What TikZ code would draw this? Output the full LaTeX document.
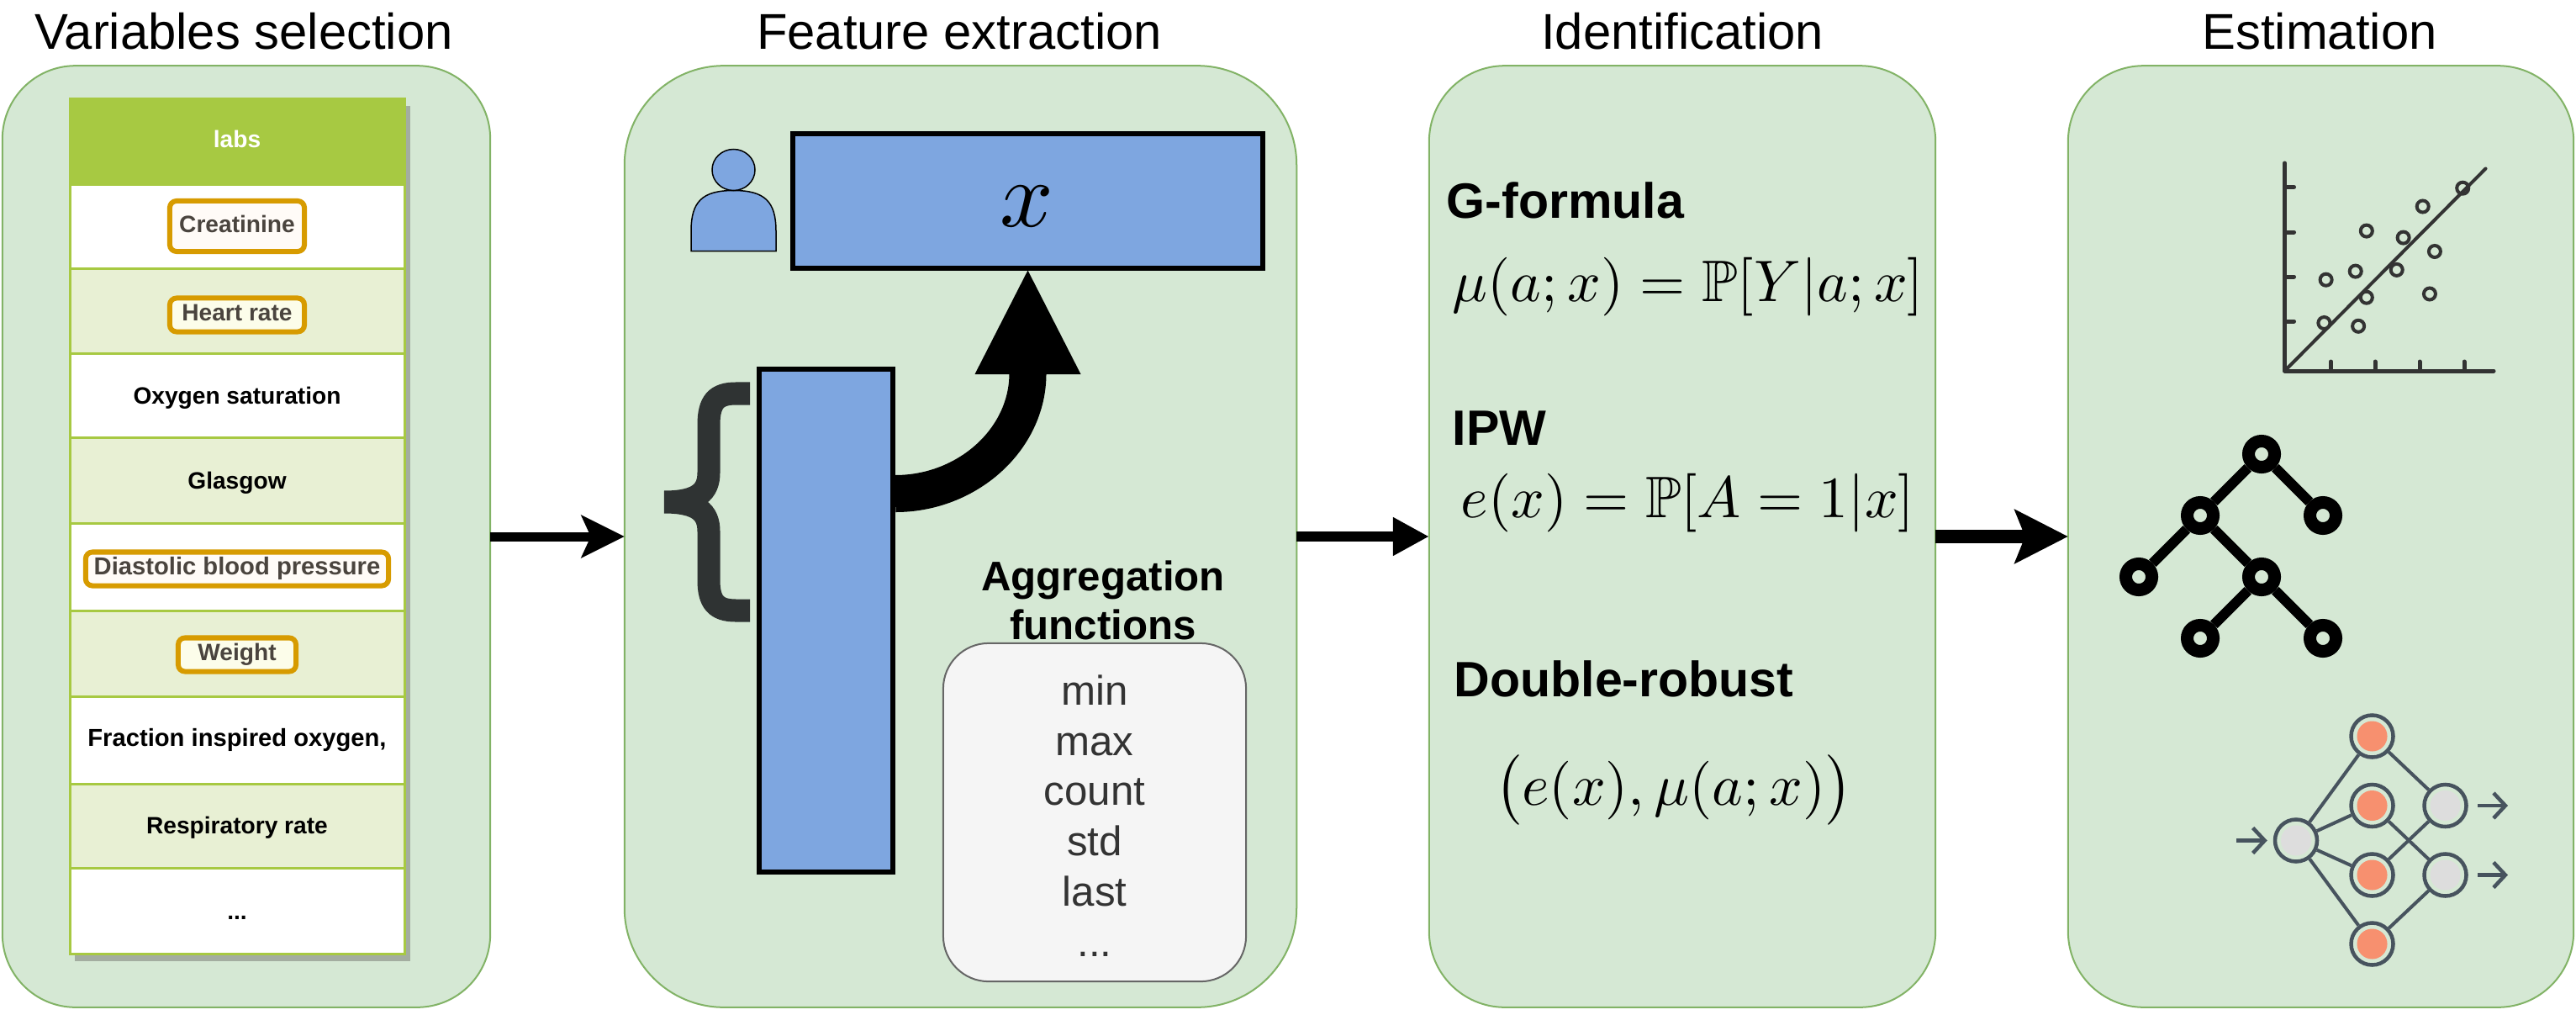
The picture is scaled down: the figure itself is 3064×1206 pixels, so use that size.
\documentclass[tikz,border=0pt]{standalone}
\usepackage{amsmath}
\usepackage{amssymb}
\usepackage[no-math]{fontspec}
\setmainfont{Liberation Sans}
\usetikzlibrary{arrows.meta, positioning}
\definecolor{panelgreen}{RGB}{213,232,212}
\definecolor{panelline}{RGB}{130,179,102}
\definecolor{tableline}{RGB}{167,201,66}
\definecolor{rowgreen}{RGB}{232,240,212}
\definecolor{shadowgray}{RGB}{163,173,160}
\definecolor{tagline}{RGB}{215,155,0}
\definecolor{tagtext}{RGB}{74,68,62}
\definecolor{blockblue}{RGB}{126,166,224}
\definecolor{bracegray}{RGB}{47,51,51}
\definecolor{iconslate}{RGB}{71,83,94}
\definecolor{iconorange}{RGB}{247,144,111}
\definecolor{icongray}{RGB}{221,221,221}
\tikzset{
  panelbox/.style={draw=panelline, fill=panelgreen, line width=0.02cm, outer sep=0pt},
  titlelabel/.style={anchor=base, inner sep=0pt, font=\fontsize{17}{20}\selectfont},
  headlabel/.style={anchor=base west, inner sep=0pt, font=\fontsize{16.8}{20}\selectfont\bfseries},
  rowlabel/.style={anchor=base, inner sep=0pt, font=\fontsize{8}{10}\selectfont\bfseries},
  tagbox/.style={draw=tagline, line width=0.06cm, rounded corners=0.08cm, text=tagtext,
    font=\fontsize{8}{10}\selectfont\bfseries, inner sep=0pt, text height=0.2cm, text depth=0.06cm},
  blockbox/.style={draw=black, fill=blockblue, line width=0.06cm, inner sep=0pt},
  mathlabel/.style={anchor=base, inner sep=0pt, scale=1.98},
  treenode/.style={circle, draw=black, fill=panelgreen, line width=0.15cm, minimum size=0.31cm, inner sep=0pt},
  treeedge/.style={draw=black, line width=0.12cm},
  netnode/.style={circle, draw=iconslate, fill=panelgreen, line width=0.045cm, minimum size=0.5cm, inner sep=0pt},
  hiddennode/.style={netnode, path picture={\fill[iconorange] (path picture bounding box.center) circle (0.18cm);}},
  outernode/.style={netnode, path picture={\fill[icongray] (path picture bounding box.center) circle (0.18cm);}},
  netedge/.style={draw=iconslate, line width=0.04cm},
  netarrow/.style={draw=iconslate, line width=0.045cm, -{Straight Barb[length=0.14cm,width=0.3cm]}},
}

\begin{document}
\begin{tikzpicture}[x=0.01cm, y=-0.01cm]
  \useasboundingbox (0,0) rectangle (3064,1206);

  % panels
  \node[panelbox, minimum width=5.8cm, minimum height=11.19cm, rounded corners=0.87cm] (varpanel) at (293,638) {};
  \node[panelbox, minimum width=7.99cm, minimum height=11.19cm, rounded corners=1.18cm] (featpanel) at (1142.5,638) {};
  \node[panelbox, minimum width=6.02cm, minimum height=11.19cm, rounded corners=0.9cm] (idpanel) at (2001,638) {};
  \node[panelbox, minimum width=6.01cm, minimum height=11.19cm, rounded corners=0.9cm] (estpanel) at (2760.5,638) {};

  \node[titlelabel] (vartitle) at (290,58) {Variables selection};
  \node[titlelabel] (feattitle) at (1141,58) {Feature extraction};
  \node[titlelabel] (idtitle) at (2001,58) {Identification};
  \node[titlelabel] (esttitle) at (2759,58) {Estimation};

  \draw[line width=0.11cm, -{Stealth[length=0.51cm,width=0.5cm,inset=0.11cm]}] (varpanel.east) -- (featpanel.west);
  \draw[line width=0.12cm, -{Triangle[length=0.43cm,width=0.43cm]}] (featpanel.east) -- (idpanel.west);
  \draw[line width=0.16cm, -{Stealth[length=0.63cm,width=0.63cm,inset=0.12cm]}] (idpanel.east) -- (estpanel.west);

  % table
  \fill[shadowgray] (89,126) rectangle (488,1143);
  \foreach \ytop/\ybot/\rowcol in {117/219/tableline, 219/319/white, 319/420/rowgreen, 420/520/white,
      520/622/rowgreen, 622/726/white, 726/828/rowgreen, 828/932/white, 932/1032/rowgreen, 1032/1134/white} {
    \draw[draw=tableline, fill=\rowcol, line width=0.03cm] (83,\ytop) rectangle (481,\ybot);
  }
  \node[rowlabel, text=white] (labs) at (282,175.5) {labs};
  \node[tagbox, fill=white!85!orange!20, minimum width=1.6cm, minimum height=0.6cm] (creatinine) at (282,269) {Creatinine};
  \node[tagbox, fill=rowgreen!70!yellow!20!white, minimum width=1.6cm, minimum height=0.4cm] (heartrate) at (282,374.5) {Heart rate};
  \node[rowlabel] (oxygen) at (282,480) {Oxygen saturation};
  \node[rowlabel] (glasgow) at (282,581.5) {Glasgow};
  \node[tagbox, fill=white!85!orange!20, minimum width=3.6cm, minimum height=0.4cm, font=\fontsize{8.3}{10}\selectfont\bfseries] (diastolic) at (282,676.5) {Diastolic blood pressure};
  \node[tagbox, fill=rowgreen!70!yellow!20!white, minimum width=1.4cm, minimum height=0.4cm] (weight) at (282,778.5) {Weight};
  \node[rowlabel, font=\fontsize{8.3}{10}\selectfont\bfseries] (fraction) at (282,887) {Fraction inspired oxygen,};
  \node[rowlabel] (respiratory) at (282,991.5) {Respiratory rate};
  \node[rowlabel] (rowdots) at (282,1093) {...};

  % feature extraction
  \node[blockbox, minimum width=5.59cm, minimum height=1.59cm] (xbox) at (1222.5,239) {};
  \node[anchor=base, inner sep=0pt, scale=3.17] (xlabel) at (1221,269) {$x$};
  \node[blockbox, minimum width=1.59cm, minimum height=5.98cm] (tallbox) at (982.5,738) {};
  \coordinate (curvestart) at (tallbox.east |- 0,587);
  \coordinate (curveend) at (xbox.south |- 0,444);
  \coordinate (curvectrl) at (xbox.south |- 0,523);
  \draw[line width=0.44cm] (curvestart) .. controls (1150,587) and (curvectrl) .. (curveend);
  \path (curveend) ++(-63,1) coordinate (headleft) (curveend) ++(63,1) coordinate (headright);
  \fill (headleft) -- (xbox.south) -- (headright) -- cycle;

  \draw[fill=blockblue, draw=black, line width=0.015cm]
        (822,298.5) -- (822,275) .. controls (822,240) and (835,226.5) .. (872.5,226.5)
        .. controls (910,226.5) and (923,240) .. (923,275) -- (923,298.5) -- cycle;
  \draw[fill=blockblue, draw=black, line width=0.015cm] (872.5,202) ellipse [x radius=25.5, y radius=24.5];

  \draw[draw=bracegray, line width=0.27cm]
        (892,468) -- (875,468) .. controls (852,468) and (843,478) .. (843,505) -- (843,562)
        .. controls (843,585) and (830,597) .. (790,597)
        .. controls (830,597) and (843,609) .. (843,632) -- (843,690)
        .. controls (843,716) and (852,726) .. (875,726) -- (892,726);

  \node[anchor=center, inner sep=0pt, align=center, font=\fontsize{14}{16.6}\selectfont\bfseries] (aggtitle) at (1312,714) {Aggregation\\functions};
  \node[draw=black!60, fill=black!4, line width=0.02cm, rounded corners=0.54cm, minimum width=3.6cm, minimum height=4.02cm] (aggbox) at (1302,966) {};
  \node[align=center, inner sep=0pt, text=black!80, font=\fontsize{14}{17}\selectfont] (agglist) at (1302,970) {min\\max\\count\\std\\last\\...};

  % identification
  \node[headlabel] (gformula) at (1720,259) {G-formula};
  \node[mathlabel] (gmath) at (2008,358) {$\mu(a;x) = \mathbb{P}[Y|a;x]$};
  \node[headlabel] (ipw) at (1727,529) {IPW};
  \node[mathlabel] (ipwmath) at (2007.5,615) {$e(x) = \mathbb{P}[A=1|x]$};
  \node[headlabel] (robust) at (1729,828) {Double-robust};
  \node[mathlabel] (robustmath) at (1991,957) {$\bigl(e(x),\mu(a;x)\bigr)$};

  % scatter icon
  \draw[draw=black!80, line width=0.05cm, line cap=round, line join=round] (2717.5,194) -- (2717.5,441) -- (2966,441);
  \foreach \yt in {222.5,276,329,382} {
    \draw[draw=black!80, line width=0.05cm, line cap=round] (2717.5,\yt) -- (2728.5,\yt);
  }
  \foreach \xt in {2772.5,2825,2878,2931} {
    \draw[draw=black!80, line width=0.05cm, line cap=round] (\xt,441) -- (\xt,430);
  }
  \draw[draw=black!80, line width=0.04cm, line cap=round] (2717.5,441) -- (2956.5,200.5);
  \foreach \px/\py in {2764.4/384, 2805.1/387.8, 2814.8/353.7, 2766.6/332.7, 2801.7/322.6, 2850.7/320.9,
      2814.8/274.6, 2858.6/282.6, 2895.9/299, 2889.9/349.5, 2881.7/245.5, 2929.2/223.7} {
    \draw[draw=black!80, line width=0.04cm] (\px,\py) circle (0.07cm);
  }

  % tree icon
  \node[treenode] (root) at (2690,540) {};
  \node[treenode] (left) at (2617,613) {};
  \node[treenode] (right) at (2763,613) {};
  \node[treenode] (leftleft) at (2544,686) {};
  \node[treenode] (leftright) at (2690,686) {};
  \node[treenode] (lowleft) at (2617,759) {};
  \node[treenode] (lowright) at (2763,759) {};
  \foreach \ta/\tb in {root/left, root/right, left/leftleft, left/leftright, leftright/lowleft, leftright/lowright} {
    \draw[treeedge] (\ta) -- (\tb);
  }

  % network icon
  \node[outernode] (netin) at (2731,999.5) {};
  \foreach \i/\yn in {1/875.5, 2/958, 3/1040.5, 4/1122.5} {
    \node[hiddennode] (hid\i) at (2821.5,\yn) {};
    \draw[netedge] (netin) -- (hid\i);
  }
  \node[outernode] (netouta) at (2908.5,958) {};
  \node[outernode] (netoutb) at (2908.5,1040.5) {};
  \foreach \ta/\tb in {hid1/netouta, hid3/netouta, hid2/netoutb, hid4/netoutb} {
    \draw[netedge] (\ta) -- (\tb);
  }
  \coordinate (netstart) at (2660,999.5);
  \coordinate (netenda) at (2983,958);
  \coordinate (netendb) at (2983,1040.5);
  \draw[netarrow, shorten >=0.07cm] (netstart) -- (netin);
  \draw[netarrow, shorten <=0.115cm] (netouta) -- (netenda);
  \draw[netarrow, shorten <=0.115cm] (netoutb) -- (netendb);
\end{tikzpicture}
\end{document}
